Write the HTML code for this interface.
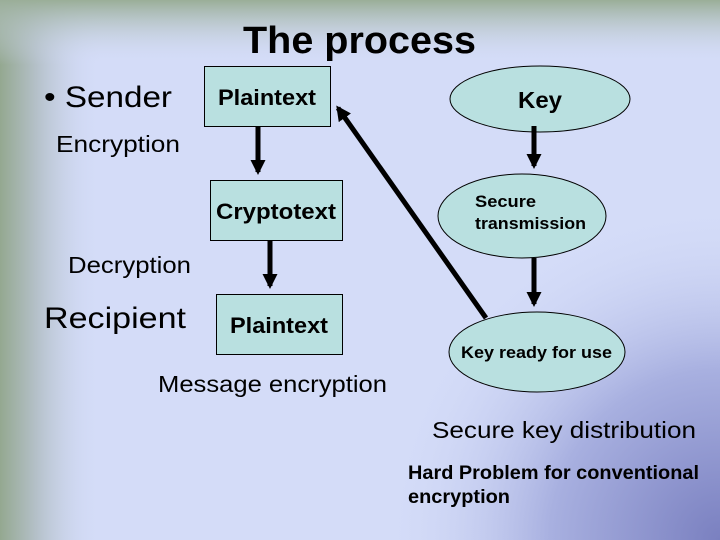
<!DOCTYPE html>
<html><head><style>
html,body{margin:0;padding:0;width:720px;height:540px;overflow:hidden}
svg{display:block}
text{font-family:"Liberation Sans",Arial,sans-serif;fill:#000}
</style></head><body>
<svg width="720" height="540" viewBox="0 0 720 540" xmlns="http://www.w3.org/2000/svg">
<defs>
<linearGradient id="lg" x1="0" y1="0" x2="1" y2="0">
<stop offset="0" stop-color="#94a890"/><stop offset="0.05" stop-color="#b4c0c8"/><stop offset="0.14" stop-color="#d2dbf7" stop-opacity="0"/>
</linearGradient>
<linearGradient id="tg" x1="0" y1="0" x2="0" y2="1">
<stop offset="0" stop-color="#9aae98"/><stop offset="0.12" stop-color="#d4dcf6" stop-opacity="0"/>
</linearGradient>
<radialGradient id="br" cx="720" cy="540" r="340" gradientUnits="userSpaceOnUse">
<stop offset="0" stop-color="#7a80c0"/><stop offset="0.5" stop-color="#a8b0e0"/><stop offset="1" stop-color="#d4dcf8" stop-opacity="0"/>
</radialGradient>
<marker id="ah" markerWidth="3" markerHeight="3.4" refX="2.4" refY="1.5" orient="auto" markerUnits="strokeWidth">
<path d="M0,0 L3,1.5 L0,3 z" fill="#000"/>
</marker>
</defs>
<rect width="720" height="540" fill="#d4dcf8"/>
<rect width="720" height="540" fill="url(#br)"/>
<rect width="720" height="540" fill="url(#lg)"/>
<rect width="720" height="540" fill="url(#tg)"/>

<text x="243" y="53" font-size="38" font-weight="bold" textLength="233" lengthAdjust="spacingAndGlyphs">The process</text>
<text x="44" y="107" font-size="30" textLength="128" lengthAdjust="spacingAndGlyphs">• Sender</text>
<text x="56" y="152" font-size="23" textLength="124" lengthAdjust="spacingAndGlyphs">Encryption</text>
<text x="68" y="273" font-size="23" textLength="123" lengthAdjust="spacingAndGlyphs">Decryption</text>
<text x="44" y="328" font-size="30" textLength="142" lengthAdjust="spacingAndGlyphs">Recipient</text>
<text x="158" y="392" font-size="23" textLength="229" lengthAdjust="spacingAndGlyphs">Message encryption</text>
<text x="432" y="438" font-size="23" textLength="264" lengthAdjust="spacingAndGlyphs">Secure key distribution</text>
<text x="408" y="479" font-size="19" font-weight="bold" textLength="291" lengthAdjust="spacingAndGlyphs">Hard Problem for conventional</text>
<text x="408" y="503" font-size="19" font-weight="bold" textLength="102" lengthAdjust="spacingAndGlyphs">encryption</text>

<g fill="#b9e0e0" stroke="#000" stroke-width="1">
<rect x="204.5" y="66.5" width="126" height="60"/>
<rect x="210.5" y="180.5" width="132" height="60"/>
<rect x="216.5" y="294.5" width="126" height="60"/>
<ellipse cx="540" cy="99" rx="90" ry="33"/>
<ellipse cx="522" cy="216" rx="84" ry="42"/>
<ellipse cx="537" cy="352" rx="88" ry="40"/>
</g>
<text x="218" y="105" font-size="22" font-weight="bold" textLength="98" lengthAdjust="spacingAndGlyphs">Plaintext</text>
<text x="216" y="219" font-size="22" font-weight="bold" textLength="120" lengthAdjust="spacingAndGlyphs">Cryptotext</text>
<text x="230" y="333" font-size="22" font-weight="bold" textLength="98" lengthAdjust="spacingAndGlyphs">Plaintext</text>
<text x="518" y="108" font-size="23" font-weight="bold" textLength="44" lengthAdjust="spacingAndGlyphs">Key</text>
<text x="475" y="207" font-size="17" font-weight="bold" textLength="61" lengthAdjust="spacingAndGlyphs">Secure</text>
<text x="475" y="229" font-size="17" font-weight="bold" textLength="111" lengthAdjust="spacingAndGlyphs">transmission</text>
<text x="461" y="358" font-size="17" font-weight="bold" textLength="151" lengthAdjust="spacingAndGlyphs">Key ready for use</text>

<g stroke="#000" stroke-width="5" fill="none" marker-end="url(#ah)">
<line x1="258" y1="127" x2="258" y2="172"/>
<line x1="270" y1="241" x2="270" y2="286"/>
<line x1="534" y1="126" x2="534" y2="166"/>
<line x1="534" y1="258" x2="534" y2="304"/>
<line x1="486" y1="318" x2="338" y2="108"/>
</g>
</svg>
</body></html>
